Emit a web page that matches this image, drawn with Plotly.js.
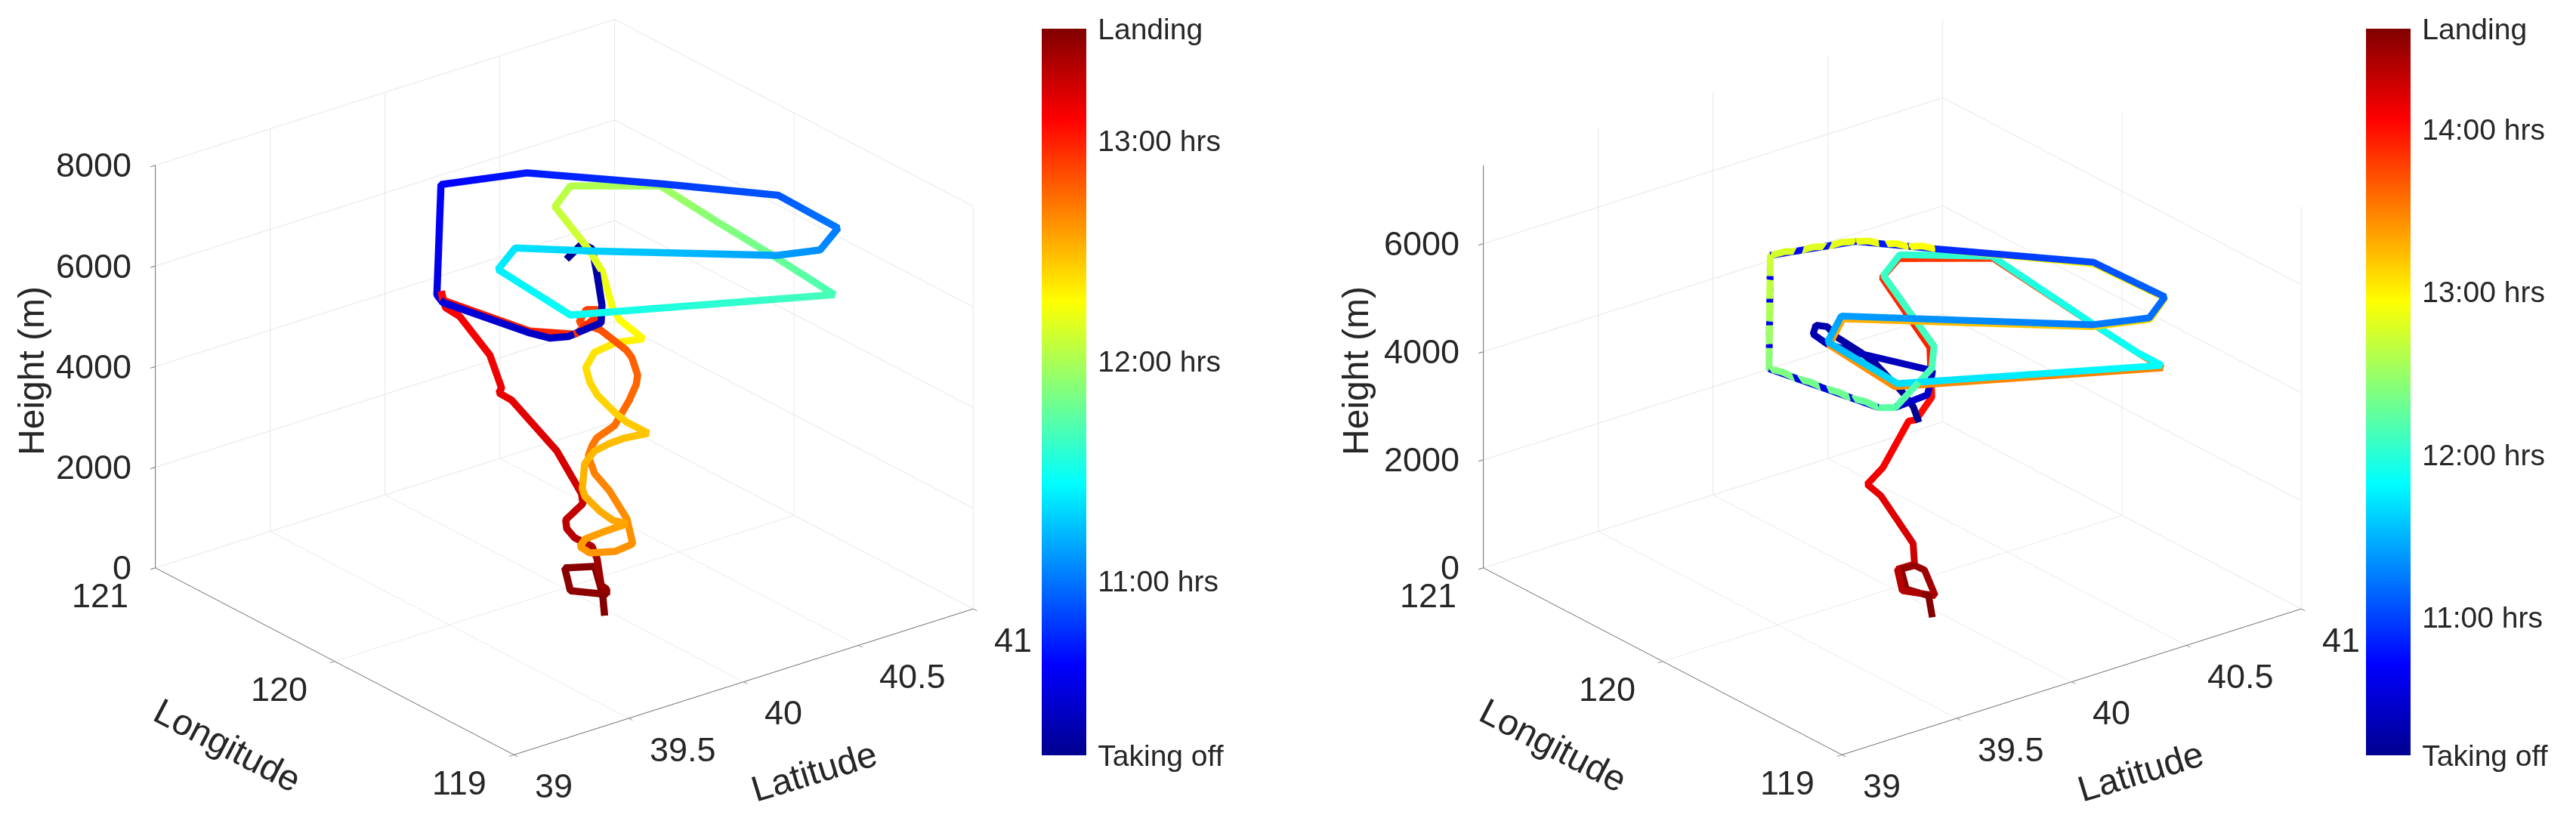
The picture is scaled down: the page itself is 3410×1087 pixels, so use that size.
<!DOCTYPE html>
<html>
<head>
<meta charset="utf-8">
<script src="https://cdn.plot.ly/plotly-3.0.1.min.js"></script>
<style>html,body{margin:0;padding:0;background:#fff}#c{width:3410px;height:1087px}</style>
</head>
<body>
<div id="c"></div>
<script>
// Left flight: latitude, longitude, height (m), time (decimal hours)
const left_lat=[40.408,40.503,40.506,40.412,40.267,40.172,40.012,39.954,39.926,39.849,39.873,39.908,40.201,40.538,40.791,40.782,40.751,40.606,40.251,40.067,39.909,39.868,40.688,40.777,40.801,40.834,40.590,40.441,40.311,40.441,40.404,40.420,40.464,40.422,40.366,40.316,40.301,40.282,40.265,40.274,40.301,40.238,40.196,40.142,40.102,40.043,40.063,40.105,40.145,40.191,40.143,40.077,40.050,40.044,40.095,40.155,40.217,40.237,40.208,40.178,40.201,40.215,40.249,40.343,40.379,40.391,40.388,40.386,40.316,40.244,40.252,40.276,40.043,39.936,39.861,39.878,39.908,39.953,40.017,40.008,40.002,40.051,40.145,40.199,40.204,40.124,40.108,40.108,40.162,40.138,40.063,40.058,40.057,39.978,40.055,40.144,40.046,39.967];
const left_lon=[120.511,120.546,120.493,120.345,120.132,120.015,119.993,120.022,120.100,120.485,120.548,120.570,120.466,120.138,119.820,119.475,119.535,119.590,120.184,120.359,120.253,119.797,119.375,119.837,120.168,120.533,120.722,120.617,120.263,120.353,120.246,120.228,120.154,120.254,120.301,120.285,120.242,120.176,120.056,120.003,119.917,119.969,119.998,120.013,120.017,119.955,119.966,119.935,119.917,119.895,119.959,119.983,119.977,119.914,119.837,119.817,119.929,120.052,120.098,120.094,120.103,120.095,120.039,120.077,120.084,120.092,120.120,120.149,120.203,120.231,120.201,120.128,119.993,120.111,120.500,120.530,120.545,120.523,120.437,120.360,120.368,120.359,120.228,120.159,120.157,120.151,120.125,120.082,120.053,119.994,119.875,119.838,119.837,119.938,120.068,120.015,119.845,119.733];
const left_height=[5000,5100,5100,5000,5000,5000,5000,5000,5000,5000,5000,7100,7100,7000,7000,7000,6500,6500,6000,6000,6000,6000,6000,5800,5800,5800,5800,5800,5800,5000,4500,4300,4000,3800,3600,3400,3200,3100,3000,2900,2800,2700,2600,2500,2300,2000,1800,1500,1300,1200,1000,900,800,800,900,1000,1200,1500,1800,2200,2350,2500,2800,3100,3350,3500,3800,3900,4300,4500,4800,4900,5000,5000,5000,5100,4700,4500,3800,3300,3200,3000,2100,1300,1100,900,800,700,500,400,200,200,100,100,200,200,100,0];
const left_time=[10.21,10.23,10.26,10.29,10.32,10.35,10.38,10.40,10.42,10.50,10.52,10.62,10.70,10.80,10.90,11.02,11.08,11.14,11.30,11.36,11.40,11.48,11.68,11.80,11.88,11.97,12.03,12.08,12.14,12.20,12.25,12.27,12.30,12.33,12.36,12.38,12.40,12.41,12.42,12.44,12.46,12.48,12.49,12.50,12.51,12.52,12.53,12.54,12.55,12.57,12.58,12.59,12.60,12.61,12.62,12.63,12.64,12.66,12.68,12.70,12.71,12.72,12.74,12.76,12.77,12.78,12.79,12.80,12.84,12.86,12.90,12.93,12.96,13.00,13.06,13.08,13.10,13.12,13.14,13.16,13.17,13.18,13.22,13.26,13.28,13.30,13.32,13.34,13.37,13.40,13.43,13.45,13.46,13.47,13.48,13.49,13.50,13.51];
// Right flight
const right_lat=[40.092,40.073,40.033,39.941,39.877,39.808,39.808,39.785,39.759,39.802,39.872,39.977,39.899,39.837,39.545,39.359,39.264,39.856,40.160,40.336,40.694,40.708,40.557,40.367,39.873,39.703,39.675,40.484,40.485,40.514,40.591,40.349,40.198,39.967,39.847,39.545,39.359,
  39.347,39.335,39.323,39.312,39.300,39.288,39.276,39.264,
  39.323,39.382,39.442,39.501,39.560,39.619,39.678,39.738,39.797,39.856,
  39.907,39.957,40.008,40.059,40.109,40.160,
  40.189,40.219,40.248,40.277,40.307,40.336,
  40.714,40.731,40.579,40.385,39.882,39.710,39.671,40.493,40.504,40.532,40.603,40.346,40.202,39.969,40.118,40.098,40.099,40.068,39.995,40.029,40.121,40.102,40.029,39.987,40.050,40.098,40.095,40.039,40.006,40.032,39.958];
const right_lon=[119.970,119.976,119.981,120.016,120.013,120.068,120.117,120.151,120.133,120.109,120.006,119.746,119.660,119.596,119.400,119.254,119.745,120.496,120.408,120.191,119.768,119.387,119.280,119.354,120.122,119.980,119.554,119.117,119.256,119.546,120.202,120.406,120.303,119.725,119.584,119.400,119.254,
  119.315,119.377,119.438,119.500,119.561,119.622,119.684,119.745,
  119.820,119.895,119.970,120.045,120.121,120.196,120.271,120.346,120.421,120.496,
  120.481,120.467,120.452,120.437,120.423,120.408,
  120.372,120.336,120.300,120.263,120.227,120.191,
  119.794,119.415,119.305,119.377,120.125,119.981,119.564,119.124,119.278,119.565,120.210,120.408,120.316,119.751,119.931,119.993,120.036,120.140,120.134,120.101,120.039,120.007,120.009,119.928,119.825,119.946,119.997,120.002,119.930,119.839,119.723];
const right_height=[3000,3300,3600,4200,4500,4800,4900,4900,4800,4600,4500,4500,4500,4500,5000,5500,5500,5500,5500,5500,5500,5500,5500,5500,5000,5000,5000,5000,5000,5000,5000,5000,5000,5000,5000,5000,5500,
  5525,5495,5525,5495,5525,5495,5525,5500,
  5525,5495,5525,5495,5525,5495,5525,5495,5525,5500,
  5525,5492,5525,5492,5525,5500,
  5530,5494,5530,5494,5530,5500,
  5400,5400,5400,5400,4930,4930,4930,4930,4930,4930,4930,4930,4930,4930,3500,3000,2900,1900,1700,1500,600,300,300,100,100,300,300,300,100,100,0];
const right_time=[10.15,10.17,10.19,10.22,10.24,10.27,10.29,10.30,10.31,10.33,10.36,10.39,10.41,10.43,10.46,10.50,10.62,10.70,10.78,10.88,11.04,11.15,11.20,11.25,11.40,11.50,11.68,11.83,11.87,11.90,12.00,12.04,12.08,12.12,12.15,12.20,12.25,
  12.27,12.29,12.31,12.32,12.34,12.36,12.38,12.40,
  12.44,12.47,12.51,12.54,12.58,12.61,12.65,12.68,12.72,12.75,
  12.77,12.78,12.80,12.82,12.83,12.85,
  12.87,12.88,12.90,12.92,12.93,12.95,
  13.00,13.05,13.10,13.15,13.30,13.40,13.45,13.50,13.60,13.65,13.80,13.85,13.88,13.92,14.00,14.03,14.06,14.10,14.15,14.18,14.25,14.30,14.35,14.40,14.45,14.50,14.53,14.55,14.57,14.59,14.62];
// Colour bars
const left_ticks=[10.21,11,12,13,13.51];
const left_labels=['Taking off','11:00 hrs','12:00 hrs','13:00 hrs','Landing'];
const right_ticks=[10.15,11,12,13,14,14.62];
const right_labels=['Taking off','11:00 hrs','12:00 hrs','13:00 hrs','14:00 hrs','Landing'];
// Axis ticks
const lat_ticks=[39,39.5,40,40.5,41];
const lon_ticks=[119,120,121];
const left_h_ticks=[0,2000,4000,6000,8000];
const right_h_ticks=[0,2000,4000,6000];

const jet=[[0,'rgb(0,0,143)'],[0.125,'rgb(0,0,255)'],[0.375,'rgb(0,255,255)'],[0.625,'rgb(255,255,0)'],[0.875,'rgb(255,0,0)'],[1,'rgb(128,0,0)']];
const FONT='"Liberation Sans",Arial,sans-serif';
const TXT='#262626', GRID='#e6e6e6', AX='#6e6e6e';
const R=2.165;
const eye={x:-0.562*R,y:-0.72*R,z:0.407*R};

function axis(range,ticks){
  return {range:range,autorange:false,tickmode:'array',tickvals:ticks,ticktext:ticks.map(String),
    title:{text:''},showticklabels:false,showgrid:true,gridcolor:GRID,gridwidth:2,
    showline:true,linecolor:AX,linewidth:2,ticks:'outside',ticklen:8,tickcolor:AX,tickwidth:2,
    zeroline:false,showbackground:false,showspikes:false};
}
function tickNotes(zt){
  const f={family:FONT,size:45,color:TXT};
  const base={showarrow:false,font:f};
  return [
    ...zt.map(v=>({...base,x:39,y:121,z:v,text:String(v),xanchor:'right',yanchor:'middle',xshift:-30,yshift:0})),
    ...lon_ticks.map(v=>({...base,x:39,y:v,z:0,text:String(v),xanchor:'right',yanchor:'middle',xshift:-34,yshift:-37})),
    ...lat_ticks.map(v=>({...base,x:v,y:119,z:0,text:String(v),xanchor:'left',yanchor:'middle',xshift:26,yshift:-41}))
  ];
}
function scene(domain,zr,zt){
  return {domain:{x:domain,y:[0.0735,0.9835]},aspectmode:'manual',aspectratio:{x:1.56,y:1.56,z:1.18},
    camera:{eye:eye,center:{x:0,y:0,z:0},up:{x:0,y:0,z:1},projection:{type:'orthographic'}},
    xaxis:axis([39,41],lat_ticks),
    yaxis:axis([119,121],lon_ticks),
    zaxis:axis(zr,zt),
    annotations:tickNotes(zt)};
}
function trace(sc,la,lo,h,t,tv,tt,cbx,w){
  return {type:'scatter3d',mode:'lines',scene:sc,x:la,y:lo,z:h,
    line:{width:w,color:t,colorscale:jet,cmin:tv[0],cmax:tv[tv.length-1],
      colorbar:{x:cbx,xanchor:'left',xref:'paper',y:0.0800,yanchor:'bottom',len:0.885,lenmode:'fraction',
        thickness:59,thicknessmode:'pixels',tickmode:'array',tickvals:tv,ticktext:tt,
        outlinewidth:0,ticks:'outside',ticklen:8,tickcolor:'rgba(0,0,0,0)',tickfont:{family:FONT,size:39,color:TXT},xpad:0,ypad:0}},
    hoverinfo:'skip'};
}
function title(px,py,text,angle){
  return {xref:'paper',yref:'paper',x:px/3410,y:1-py/1087,text:text,textangle:angle,showarrow:false,
    xanchor:'center',yanchor:'middle',font:{family:FONT,size:48,color:TXT}};
}
const data=[
  trace('scene',left_lat,left_lon,left_height,left_time,left_ticks,left_labels,1379/3410,19),
  trace('scene2',right_lat,right_lon,right_height,right_time,right_ticks,right_labels,3132/3410,18)
];
const layout={width:3410,height:1087,margin:{l:0,r:0,t:0,b:0},paper_bgcolor:'#fff',showlegend:false,
  scene:scene([47/3410,1447/3410],[0,8000],left_h_ticks),
  scene2:scene([1805/3410,3205/3410],[0,7450],right_h_ticks),
  annotations:[
    title(301,986,'Longitude',27.5),title(1077,1021,'Latitude',-17),title(41,491,'Height (m)',-90),
    title(2056,986,'Longitude',27.5),title(2833,1021,'Latitude',-17),title(1794,491,'Height (m)',-90)
  ]};
Plotly.newPlot('c',data,layout,{displayModeBar:false});
</script>
</body>
</html>
